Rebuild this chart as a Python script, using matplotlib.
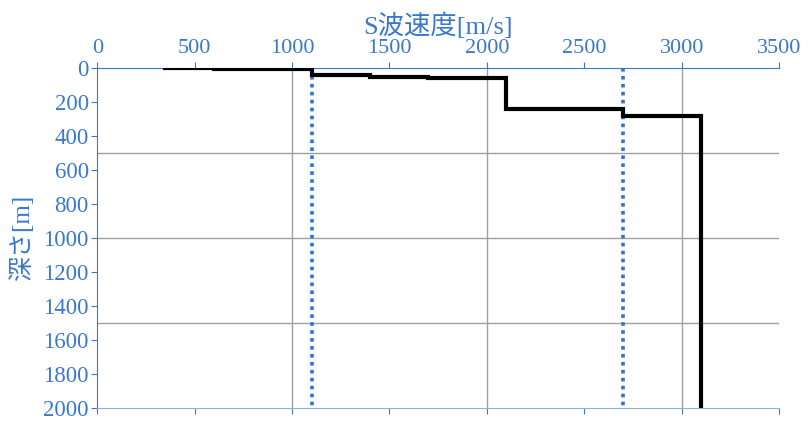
import numpy as np
import matplotlib.pyplot as plt
from matplotlib.ticker import MultipleLocator

plt.rcParams['font.family'] = ['Liberation Serif', 'Noto Sans CJK JP']

# layer model: S-wave velocity and layer boundaries (depth, m)
vs = [350, 600, 1100, 1400, 1700, 2100, 2700, 3100]
bounds = [0, 1, 5, 38, 51, 59, 242, 280, 2000]
marks = [1100, 2700]  # dotted reference velocities

blue = '#3A78CF'

x = np.repeat(vs, 2)
y = np.array([[bounds[i], bounds[i + 1]] for i in range(len(vs))]).ravel()

fig = plt.figure(figsize=(8.1, 4.26), dpi=100)
ax = fig.add_axes([0.12, 0.042, 0.842, 0.798])

# gridlines every 1000 m/s and every 500 m
for gx in np.arange(1000, 3500, 1000):
    ax.axvline(gx, color='#A0A0A0', linewidth=1, zorder=1)
for gy in np.arange(500, 2000, 500):
    ax.axhline(gy, color='#A0A0A0', linewidth=1, zorder=1)

ax.vlines(marks, 0, 2000, colors='#2F72D4', linestyles=(0, (1, 1.2)), linewidth=2.6, zorder=2)
ax.plot(x, y, color='black', linewidth=3, solid_joinstyle='miter', zorder=3)

ax.set_xlim(0, 3500)
ax.set_ylim(2000, 0)
ax.xaxis.set_major_locator(MultipleLocator(500))
ax.yaxis.set_major_locator(MultipleLocator(200))

ax.xaxis.set_label_position('top')
ax.tick_params(axis='x', top=True, labeltop=True, bottom=True, labelbottom=False,
               direction='out', length=4, color=blue, labelsize=16, labelcolor=blue, pad=3)
ax.tick_params(axis='y', direction='out', length=4, color=blue, labelsize=16.5, labelcolor=blue, pad=2)

ax.set_xlabel('S波速度[m/s]', fontsize=19, color=blue, labelpad=4)
ax.set_ylabel('深さ[m]', fontsize=18, color=blue, labelpad=7)

for s in ['left', 'top']:
    ax.spines[s].set_color(blue)
ax.spines['bottom'].set_color('#8DB0E0')
ax.spines['right'].set_visible(False)

fig.savefig('out.png', dpi=100)
